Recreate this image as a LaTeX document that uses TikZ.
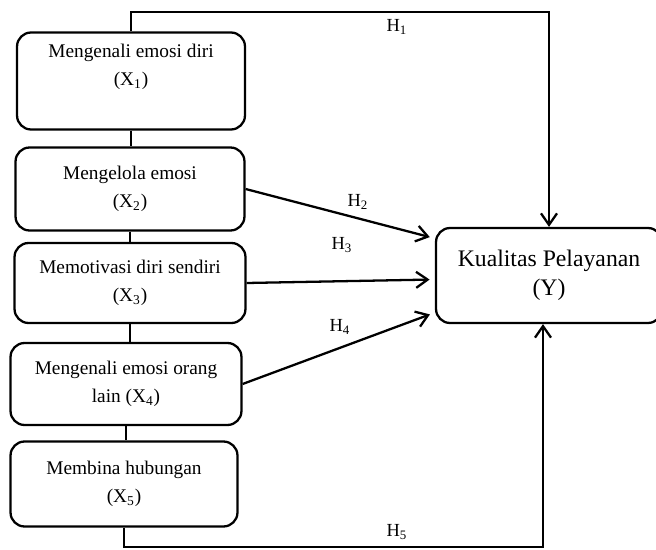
\documentclass[tikz,border=0pt]{standalone}
\usepackage{fontspec}
\setmainfont{Liberation Serif}
\usepackage{xcolor}
\usepackage{tikz}
\usetikzlibrary{positioning,shapes,arrows.meta}

\begin{document}
\begin{tikzpicture}[x=0.02cm, y=-0.02cm,
				box/.style = {rectangle, rounded corners=8pt, draw, line width=1.3pt, align=center, inner sep=0pt, font=\fontsize{11}{16}\selectfont},
				hyp/.style = {font=\fontsize{10.5}{12}\selectfont, inner sep=0pt},
				link/.style = {line width=1.3pt, -{Straight Barb[length=2.3mm,width=3.2mm]}}]
			\useasboundingbox (0,0) rectangle (656,550);
			\node[box, minimum width=4.56cm, minimum height=1.94cm] (x1) at (131, 81) {Mengenali emosi diri\\(X\textsubscript{1})\\[2pt]};
			\node[box, minimum width=4.58cm, minimum height=1.66cm] (x2) at (130, 189) {Mengelola emosi\\(X\textsubscript{2})};
			\node[box, minimum width=4.62cm, minimum height=1.60cm] (x3) at (130, 283) {Memotivasi diri sendiri\\(X\textsubscript{3})};
			\node[box, minimum width=4.62cm, minimum height=1.64cm] (x4) at (126, 384) {Mengenali emosi orang\\lain (X\textsubscript{4})};
			\node[box, minimum width=4.54cm, minimum height=1.70cm] (x5) at (124, 484) {Membina hubungan\\(X\textsubscript{5})};
			\node[box, minimum width=4.52cm, minimum height=1.90cm, font=\fontsize{13.5}{16.5}\selectfont] (y) at (549, 275.5) {Kualitas Pelayanan\\(Y)};
			
			\coordinate (top) at (549, 12);
			\coordinate (bot) at (543, 547);
			
			% jalur vertikal antar variabel
			\draw[line width=1.3pt] (x1.south) -- (x1.south |- x2.north);
			\draw[line width=1.3pt] (x2.south) -- (x2.south |- x3.north);
			\draw[line width=1.3pt] (x3.south) -- (x3.south |- x4.north);
			\draw[line width=1.3pt] (x4.south) -- (x4.south |- x5.north);
			
			\draw[link] (x1.north) |- (top) -- (y.north);
			\draw[link, shorten >=3pt] (x2.east) -- (y.162.6);
			\draw[link, shorten >=3pt] (x3.east) -- (y.182.6);
			\draw[link, shorten >=3pt] (x4.east) -- (y.198.4);
			\draw[link] (x5.south) |- (bot) -- (y.south -| bot);
			
			\node[hyp] (h1) at (397, 27) {H\textsubscript{1}};
			\node[hyp] (h2) at (358, 202) {H\textsubscript{2}};
			\node[hyp] (h3) at (342, 245) {H\textsubscript{3}};
			\node[hyp] (h4) at (340, 327) {H\textsubscript{4}};
			\node[hyp] (h5) at (397, 532) {H\textsubscript{5}};
		\end{tikzpicture}
\end{document}
